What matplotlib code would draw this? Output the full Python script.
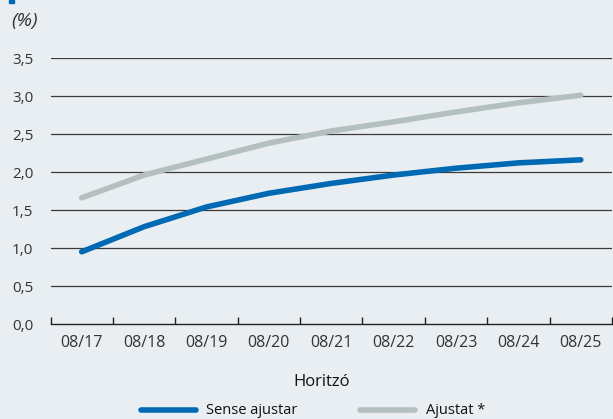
import numpy as np
import matplotlib.pyplot as plt
from matplotlib.patches import Rectangle
from matplotlib.lines import Line2D

horizons = ["08/17", "08/18", "08/19", "08/20", "08/21", "08/22", "08/23", "08/24", "08/25"]
sense_ajustar = [0.95, 1.28, 1.54, 1.72, 1.85, 1.96, 2.05, 2.12, 2.16]
ajustat = [1.66, 1.96, 2.17, 2.38, 2.54, 2.66, 2.79, 2.91, 3.01]
yticks = [0.0, 0.5, 1.0, 1.5, 2.0, 2.5, 3.0, 3.5]

BLUE = "#0069b4"
GREY = "#b4bfc0"
BG = "#e9eef2"
TXT = "#333333"

plt.rcParams['font.family'] = ['Open Sans', 'DejaVu Sans']

W, H = 613, 419
fig = plt.figure(figsize=(W / 100, H / 100), dpi=100, facecolor=BG)
ax = fig.add_axes([50.5 / W, (H - 324) / H, (612 - 50.5) / W, (324 - 58) / H])
ax.set_facecolor(BG)

x = np.arange(len(horizons))
ax.set_xlim(-0.5, len(horizons) - 0.5)
ax.set_ylim(0, 3.5)

for v in yticks[1:]:
    ax.axhline(v, color="#3a3a3a", lw=0.9, zorder=1)

ax.plot(x, ajustat, color=GREY, lw=4, solid_capstyle="round", zorder=3)
ax.plot(x, sense_ajustar, color=BLUE, lw=4, solid_capstyle="round", zorder=3)

for s in ["top", "right", "left"]:
    ax.spines[s].set_visible(False)
ax.spines["bottom"].set_color("#222222")
ax.spines["bottom"].set_linewidth(1.0)

# ticks between categories, labels centred on them
ax.set_xticks(np.arange(len(horizons) + 1) - 0.5)
ax.set_xticklabels([])
ax.tick_params(axis="x", direction="in", length=5, width=1, color="#222222")
ax.set_xticks(x, minor=True)
ax.set_xticklabels(horizons, minor=True)
ax.tick_params(axis="x", which="minor", length=0, pad=8, labelsize=11.5, labelcolor=TXT)

ax.set_yticks(yticks)
ax.set_yticklabels([f"{v:.1f}".replace(".", ",") for v in yticks])
ax.tick_params(axis="y", length=0, pad=12.5, labelsize=11, labelcolor=TXT)

fig.text(11 / W, (H - 21) / H, "(%)", fontsize=14, style="italic", color=TXT, va="center")
fig.text(322 / W, (H - 382) / H, "Horitzó", fontsize=12, color="#111111", ha="center", va="center")

ly = (H - 410) / H
fig.add_artist(Line2D([141 / W, 196 / W], [ly, ly], color=BLUE, lw=4, solid_capstyle="round"))
fig.text(206 / W, ly, "Sense ajustar", fontsize=10.5, color="#111111", va="center")
fig.add_artist(Line2D([360 / W, 415 / W], [ly, ly], color=GREY, lw=4, solid_capstyle="round"))
fig.text(426 / W, ly, "Ajustat *", fontsize=10.5, color="#111111", va="center")

fig.add_artist(Rectangle((9 / W, (H - 3) / H), 5 / W, 3 / H, color=BLUE, transform=fig.transFigure))

fig.savefig("out.png", dpi=100, facecolor=BG)
